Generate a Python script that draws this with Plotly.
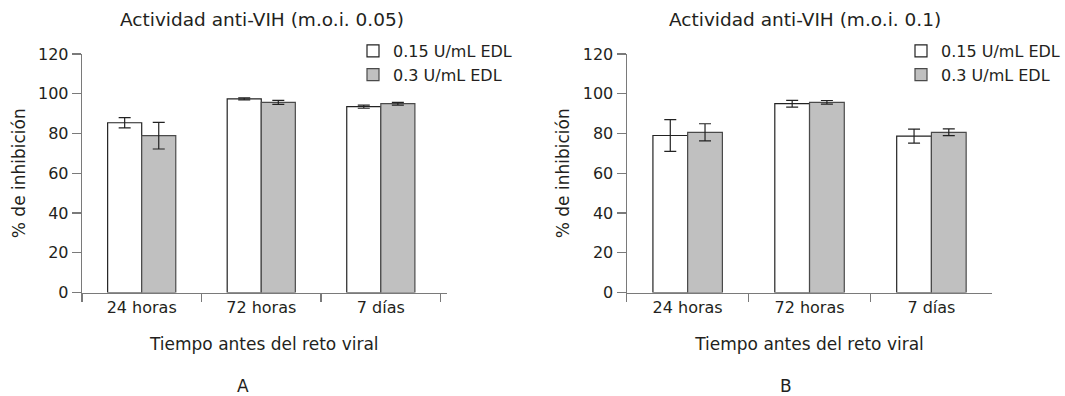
import plotly.graph_objects as go

# ---- data ----
categories = ["24 horas", "72 horas", "7 días"]
series_names = ["0.15 U/mL EDL", "0.3 U/mL EDL"]

a_low = [85.4, 97.4, 93.5]
a_low_err = [2.6, 0.5, 0.8]
a_high = [78.9, 95.7, 95.0]
a_high_err = [6.7, 1.0, 0.7]

b_low = [79.0, 95.0, 78.7]
b_low_err = [8.0, 1.7, 3.5]
b_high = [80.6, 95.7, 80.6]
b_high_err = [4.3, 0.9, 1.7]

titles = ["Actividad anti-VIH (m.o.i. 0.05)", "Actividad anti-VIH (m.o.i. 0.1)"]
x_title = "Tiempo antes del reto viral"
y_title = "% de inhibición"
panel_labels = ["A", "B"]
y_ticks = [0, 20, 40, 60, 80, 100, 120]

# ---- style ----
W, H = 1065, 396
FONT = "DejaVu Sans"
TXT = "#231f20"
AXC = "#7a7a7a"
fills = ["#ffffff", "#c0c0c0"]
edges = ["#222222", "#4a4a4a"]

def px(x):
    return x / W

def py(y):
    return 1 - y / H

fig = go.Figure()

panels = [
    ("x", "y", "legend", [a_low, a_high], [a_low_err, a_high_err]),
    ("x2", "y2", "legend2", [b_low, b_high], [b_low_err, b_high_err]),
]
for xa, ya, leg, vals, errs in panels:
    for i in range(2):
        fig.add_trace(go.Bar(
            x=categories, y=vals[i], name=series_names[i],
            xaxis=xa, yaxis=ya, legend=leg,
            marker=dict(color=fills[i], line=dict(color=edges[i], width=1.2)),
            error_y=dict(type="data", array=errs[i], color="#222222",
                         thickness=1.2, width=6),
        ))

axis_common = dict(
    showline=True, linecolor=AXC, linewidth=1.2,
    ticks="outside", tickcolor=AXC, tickwidth=1.2,
    showgrid=False, zeroline=False, automargin=False,
    tickfont=dict(family=FONT, size=16, color=TXT),
)
ydom = [py(292.5), py(54)]
title_font = dict(family=FONT, size=17, color=TXT)

fig.update_layout(
    template="none",
    width=W, height=H,
    margin=dict(l=0, r=0, t=0, b=0, pad=0),
    paper_bgcolor="white", plot_bgcolor="white",
    font=dict(family=FONT, size=16, color=TXT),
    barmode="group", bargap=0.43, bargroupgap=0,
    showlegend=True,
    xaxis=dict(domain=[px(82), px(447)], range=[-0.5, 2.55], anchor="y",
               tickson="boundaries", ticklen=8,
               title=dict(text=x_title, font=title_font, standoff=22),
               **axis_common),
    yaxis=dict(domain=ydom, range=[0, 120], anchor="x", tickvals=y_ticks, ticklen=9,
               title=dict(text=y_title, font=title_font, standoff=8),
               **axis_common),
    xaxis2=dict(domain=[px(627.3), px(993.3)], range=[-0.5, 2.5], anchor="y2",
                tickson="boundaries", ticklen=8,
                title=dict(text=x_title, font=title_font, standoff=22),
                **axis_common),
    yaxis2=dict(domain=ydom, range=[0, 120], anchor="x2", tickvals=y_ticks, ticklen=9,
                title=dict(text=y_title, font=title_font, standoff=8),
                **axis_common),
    legend=dict(x=px(353), y=py(34), xanchor="left", yanchor="top",
                bgcolor="rgba(0,0,0,0)", itemwidth=30, tracegroupgap=0,
                font=dict(family=FONT, size=16, color=TXT)),
    legend2=dict(x=px(902), y=py(34), xanchor="left", yanchor="top",
                 bgcolor="rgba(0,0,0,0)", itemwidth=30, tracegroupgap=0,
                 font=dict(family=FONT, size=16, color=TXT)),
)

head_font = dict(family=FONT, size=18.5, color=TXT)
annotations = [
    dict(text=titles[0], x=px(262), y=py(19), xref="paper", yref="paper",
         showarrow=False, xanchor="center", yanchor="middle", font=head_font),
    dict(text=titles[1], x=px(806), y=py(19), xref="paper", yref="paper",
         showarrow=False, xanchor="center", yanchor="middle", font=head_font),
    dict(text=panel_labels[0], x=px(243), y=py(386), xref="paper", yref="paper",
         showarrow=False, xanchor="center", yanchor="middle", font=title_font),
    dict(text=panel_labels[1], x=px(787), y=py(386), xref="paper", yref="paper",
         showarrow=False, xanchor="center", yanchor="middle", font=title_font),
]
fig.update_layout(annotations=annotations)

fig.write_html(
    "out.html",
    config={"displayModeBar": False, "staticPlot": True},
    post_script="document.body.style.margin='0px';document.body.style.overflow='hidden';",
)
